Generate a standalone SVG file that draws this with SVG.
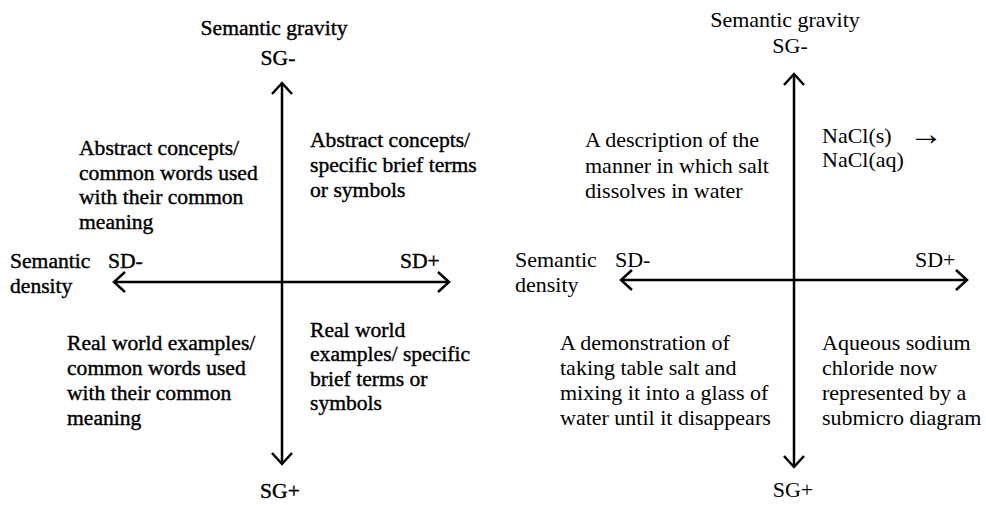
<svg xmlns="http://www.w3.org/2000/svg" width="986" height="505" viewBox="0 0 986 505">
<style>
text{font-family:"Liberation Serif","Times New Roman",serif;fill:#000}
.l{font-size:21.6px;stroke:#000;stroke-width:0.4px}
.r{font-size:22px}
.m{text-anchor:middle}
.axis{stroke:#000;stroke-width:2.5;fill:none}
</style>
<defs>
<marker id="chev" viewBox="-12 -12 14 24" markerWidth="14" markerHeight="24" refX="0" refY="0" orient="auto" markerUnits="userSpaceOnUse">
<path d="M-11,-10 L0,0 L-11,10" fill="none" stroke="#000" stroke-width="2.5"/>
</marker>
</defs>
<rect width="986" height="505" fill="#fff"/>
<g id="connectors">
<line class="axis" x1="282" y1="282" x2="282" y2="83" marker-end="url(#chev)"/>
<line class="axis" x1="282" y1="282" x2="282" y2="464" marker-end="url(#chev)"/>
<line class="axis" x1="282" y1="282" x2="114" y2="282" marker-end="url(#chev)"/>
<line class="axis" x1="282" y1="282" x2="449" y2="282" marker-end="url(#chev)"/>
<line class="axis" x1="794" y1="280" x2="794" y2="74" marker-end="url(#chev)"/>
<line class="axis" x1="794" y1="280" x2="794" y2="467" marker-end="url(#chev)"/>
<line class="axis" x1="794" y1="280" x2="621" y2="280" marker-end="url(#chev)"/>
<line class="axis" x1="794" y1="280" x2="967" y2="280" marker-end="url(#chev)"/>
</g>
<g id="left-sg-top"><text class="l m" x="274" y="35">Semantic gravity</text><text class="l m" x="278" y="65">SG-</text></g>
<g id="left-sg-bottom"><text class="l m" x="280" y="498">SG+</text></g>
<g id="left-sd-label"><text class="l" x="10" y="268">Semantic</text><text class="l" x="10" y="293">density</text></g>
<g id="left-sd-minus"><text class="l" x="108" y="268">SD-</text></g>
<g id="left-sd-plus"><text class="l" x="400" y="268">SD+</text></g>
<g id="left-q1"><text class="l" x="79" y="155">Abstract concepts/</text><text class="l" x="79" y="180">common words used</text><text class="l" x="79" y="204">with their common</text><text class="l" x="79" y="229">meaning</text></g>
<g id="left-q2"><text class="l" x="310" y="147">Abstract concepts/</text><text class="l" x="310" y="172">specific  brief terms</text><text class="l" x="310" y="197">or symbols</text></g>
<g id="left-q3"><text class="l" x="67" y="350">Real world examples/</text><text class="l" x="67" y="375">common words used</text><text class="l" x="67" y="400">with their common</text><text class="l" x="67" y="425">meaning</text></g>
<g id="left-q4"><text class="l" x="310" y="337">Real world</text><text class="l" x="310" y="361">examples/ specific</text><text class="l" x="310" y="386">brief terms or</text><text class="l" x="310" y="410">symbols</text></g>
<g id="right-sg-top"><text class="r m" x="785" y="27">Semantic gravity</text><text class="r m" x="790" y="53">SG-</text></g>
<g id="right-sg-bottom"><text class="r m" x="793" y="497">SG+</text></g>
<g id="right-sd-label"><text class="r" x="515" y="267">Semantic</text><text class="r" x="515" y="292">density</text></g>
<g id="right-sd-minus"><text class="r" x="615" y="267">SD-</text></g>
<g id="right-sd-plus"><text class="r" x="915" y="267">SD+</text></g>
<g id="right-q1"><text class="r" x="585" y="147">A description of the</text><text class="r" x="585" y="173">manner in which salt</text><text class="r" x="585" y="198">dissolves in water</text></g>
<g id="right-q2"><text class="r" x="822" y="143">NaCl(s)<tspan x="909" y="145" style="font-size:34px">→</tspan></text><text class="r" x="822" y="167">NaCl(aq)</text></g>
<g id="right-q3"><text class="r" x="560" y="350">A demonstration of</text><text class="r" x="560" y="375">taking table salt and</text><text class="r" x="560" y="400">mixing it into a glass of</text><text class="r" x="560" y="425">water until it disappears</text></g>
<g id="right-q4"><text class="r" x="822" y="350">Aqueous sodium</text><text class="r" x="822" y="375">chloride now</text><text class="r" x="822" y="400">represented by a</text><text class="r" x="822" y="425">submicro diagram</text></g>
</svg>
